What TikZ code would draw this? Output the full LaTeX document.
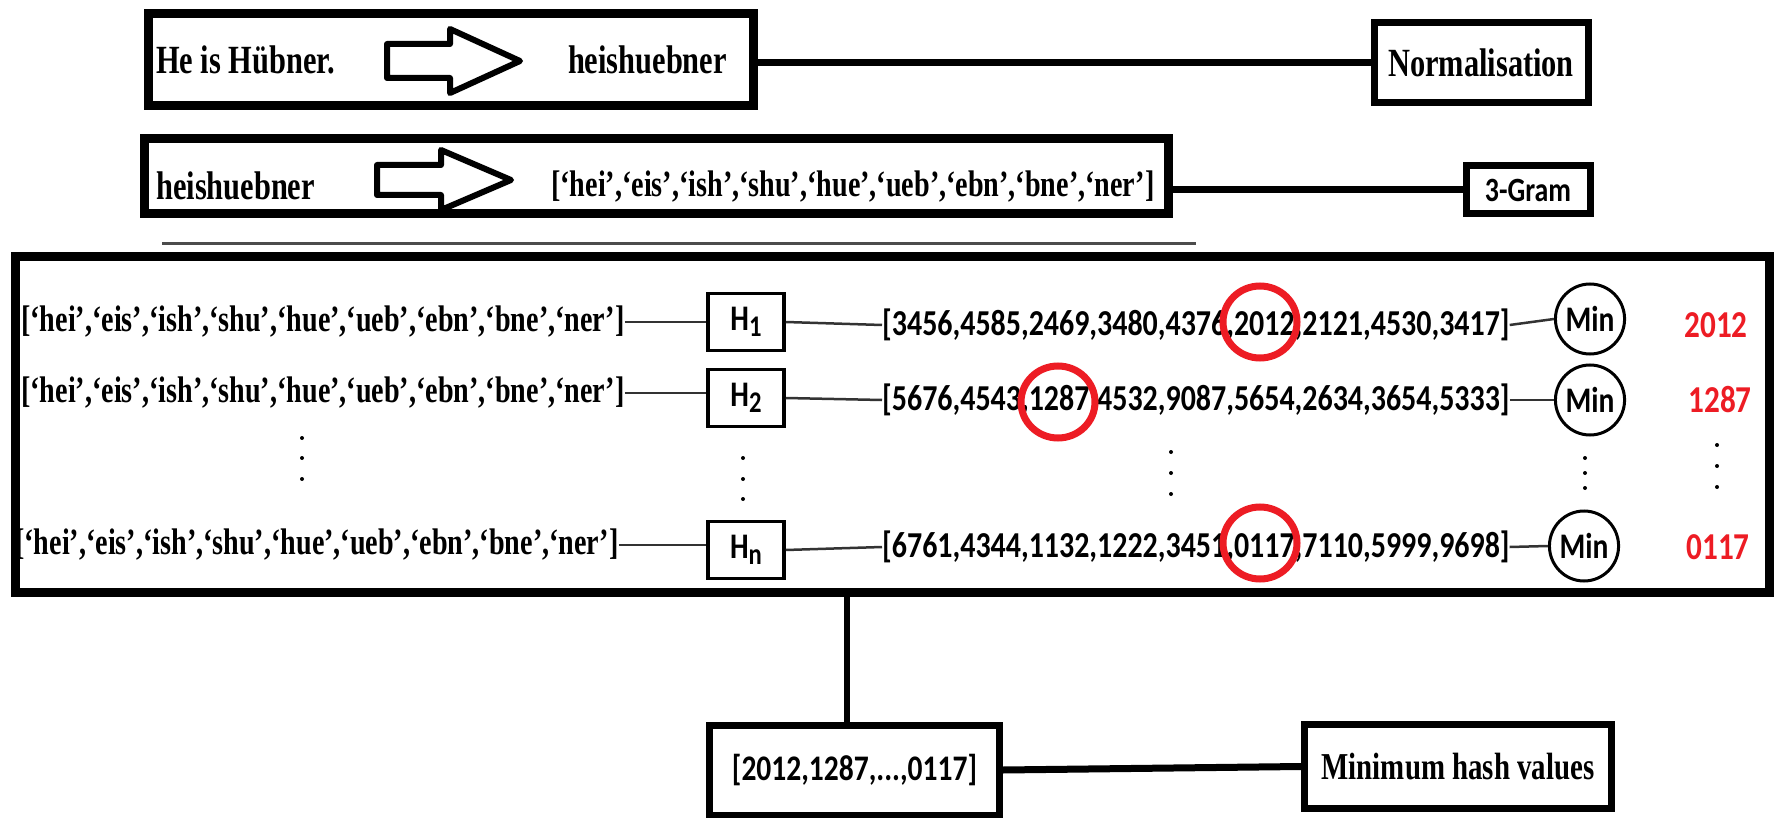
\documentclass[tikz,border=0pt]{standalone}
\usepackage{fontspec}
\newfontfamily\tmsfont[FakeStretch=0.76]{Liberation Serif}
\newfontfamily\calfont[FakeStretch=0.82]{Carlito}
\usetikzlibrary{shapes.geometric}
\definecolor{hred}{HTML}{ED1C24}
\begin{document}
\begin{tikzpicture}[x=1pt,y=-1pt,
  bigbox/.style={draw, line width=9pt, inner sep=0pt},
  midbox/.style={draw, line width=7pt, inner sep=0pt},
  hbox/.style={draw, line width=3.5pt, inner sep=0pt, minimum width=76pt, minimum height=57pt, font=\calfont\bfseries\fontsize{36}{36}\selectfont},
  minc/.style={draw, ellipse, line width=3pt, inner sep=0pt, minimum width=66pt, minimum height=70pt, font=\calfont\bfseries\fontsize{36}{36}\selectfont},
  redell/.style={draw=hred, ellipse, line width=7pt, inner sep=0pt, minimum width=74pt, minimum height=72pt},
  serA/.style={inner sep=0pt, font=\tmsfont\bfseries\fontsize{40}{40}\selectfont},
  serL/.style={inner sep=0pt, font=\tmsfont\bfseries\fontsize{37}{37}\selectfont},
  sanN/.style={inner sep=0pt, font=\calfont\bfseries\fontsize{36.5}{36.5}\selectfont},
  redn/.style={inner sep=0pt, text=hred, font=\calfont\bfseries\fontsize{38}{38}\selectfont},
  thickln/.style={line width=7pt},
  thinln/.style={line width=2.5pt, black!80},
  blockarrow/.style={line width=6pt, line join=round, fill=white},
  dotc/.style={circle, fill=black, inner sep=0pt, minimum size=4pt}]
\useasboundingbox (0,0) rectangle (1781,818);
\fill[white] (0,0) rectangle (1781,818);

% ---- Normalisation row
\node[bigbox, minimum width=605pt, minimum height=92pt] (b1) at (451,59.5) {};
\node[serA, anchor=west] (t1) at (156,60) {He is Hübner.};
\draw[blockarrow] (387,44) -- (450,44) -- (450,29) -- (520,61) -- (450,93) -- (450,78) -- (387,78) -- cycle;
\node[serA, anchor=east] (t2) at (727,60) {heishuebner};
\node[midbox, serA, minimum width=214pt, minimum height=80pt] (norm) at (1481,63) {Normalisation};
\draw[thickln] (norm.west) -- (norm.west -| b1.east);

% ---- 3-gram row
\node[bigbox, minimum width=1024pt, minimum height=75pt] (b2) at (656.5,176) {};
\node[serA, anchor=west] (t3) at (156,186) {heishuebner};
\draw[blockarrow] (377,165) -- (441,165) -- (441,150) -- (511,180) -- (441,210) -- (441,195) -- (377,195) -- cycle;
\node[serL, anchor=west] (t4) at (551,187) {[‘hei’,‘eis’,‘ish’,‘shu’,‘hue’,‘ueb’,‘ebn’,‘bne’,‘ner’]};
\node[midbox, sanN, font=\calfont\bfseries\fontsize{34}{34}\selectfont, minimum width=124pt, minimum height=48pt] (gram) at (1528,190) {3-Gram};
\draw[thickln] (gram.west) -- (gram.west -| b2.east);

% separator
\draw[line width=3pt, black!70] (162,244) -- (1196,244);

% ---- hashing block
\node[bigbox, minimum width=1754pt, minimum height=336pt] (big) at (892.5,424.5) {};

\node[serL, anchor=west] (l1) at (21,322) {[‘hei’,‘eis’,‘ish’,‘shu’,‘hue’,‘ueb’,‘ebn’,‘bne’,‘ner’]};
\node[serL, anchor=west] (l2) at (21,393) {[‘hei’,‘eis’,‘ish’,‘shu’,‘hue’,‘ueb’,‘ebn’,‘bne’,‘ner’]};
\node[serL, anchor=west] (ln) at (15,545) {[‘hei’,‘eis’,‘ish’,‘shu’,‘hue’,‘ueb’,‘ebn’,‘bne’,‘ner’]};

\node[hbox] (h1) at (746,322) {H\raisebox{-0.18em}{\fontsize{30}{30}\selectfont 1}};
\node[hbox] (h2) at (746,398) {H\raisebox{-0.18em}{\fontsize{30}{30}\selectfont 2}};
\node[hbox] (hn) at (746,550) {H\raisebox{-0.18em}{\fontsize{30}{30}\selectfont n}};

\node[sanN, anchor=west] (n1) at (882,325) {[3456,4585,2469,3480,4376,2012,2121,4530,3417]};
\node[sanN, anchor=west] (n2) at (882,400) {[5676,4543,1287,4532,9087,5654,2634,3654,5333]};
\node[sanN, anchor=west] (nn) at (882,547) {[6761,4344,1132,1222,3451,0117,7110,5999,9698]};

\node[minc] (m1) at (1590,319) {Min};
\node[minc] (m2) at (1590,400) {Min};
\node[minc] (mn) at (1584,546) {Min};

\node[redn] (r1) at (1716,325) {2012};
\node[redn] (r2) at (1720,400) {1287};
\node[redn] (rn) at (1718,547) {0117};

\node[redell] (e1) at (1260,322) {};
\node[redell] (e2) at (1058,402) {};
\node[redell] (en) at (1260,543) {};

\draw[thinln] (l1.east) -- (h1.west);
\draw[thinln] (h1.east) -- (n1.west);
\draw[thinln] (n1.east) -- (m1.west);
\draw[thinln] (l2.east) -- (l2.east -| h2.west);
\draw[thinln] (h2.east) -- (n2.west);
\draw[thinln] (n2.east) -- (m2.west);
\draw[thinln] (ln.east) -- (ln.east -| hn.west);
\draw[thinln] (hn.east) -- (nn.west);
\draw[thinln] (nn.east) -- (mn.west);

% dots
\foreach \yy [count=\i] in {438,458,479} \node[dotc] (da\i) at (302,\yy) {};
\foreach \yy [count=\i] in {458,479,499} \node[dotc] (db\i) at (743,\yy) {};
\foreach \yy [count=\i] in {452,473,494} \node[dotc] (dc\i) at (1171,\yy) {};
\foreach \yy [count=\i] in {458,473,488} \node[dotc] (dd\i) at (1585,\yy) {};
\foreach \yy [count=\i] in {445,466,487} \node[dotc] (de\i) at (1717,\yy) {};

% ---- result
\node[midbox, sanN, font=\calfont\bfseries\fontsize{36}{36}\selectfont, minimum width=290pt, minimum height=90pt] (bb) at (854.5,770) {[2012,1287,...,0117]};
\node[midbox, serA, font=\tmsfont\bfseries\fontsize{38}{38}\selectfont, minimum width=307pt, minimum height=84pt] (mh) at (1458,766.5) {Minimum hash values};
\coordinate (bbtop) at ([xshift=-8pt]bb.north);
\draw[line width=6pt] (bbtop) -- (bbtop |- big.south);
\draw[thickln] (bb.east) -- (mh.west);
\end{tikzpicture}
\end{document}
